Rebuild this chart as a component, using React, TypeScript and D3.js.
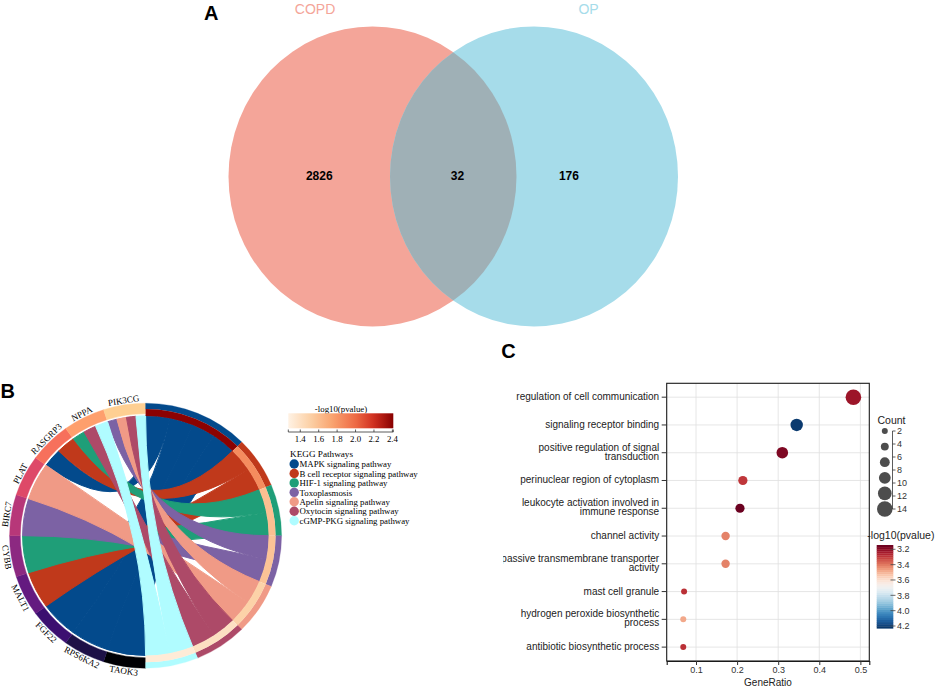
import React, { useEffect, useRef } from "react";
import * as d3 from "d3";

const SANS = "Liberation Sans, Arial, sans-serif";
const SERIF = "Liberation Serif, Times New Roman, serif";

// ---- Panel A: Venn ----
const VENN_SETS = ["COPD", "OP"];
const VENN_COUNTS = [2826, 32, 176]; // COPD only, shared, OP only

// ---- Panel B: KEGG chord ----
// genes run clockwise from 6 o'clock up to 12 o'clock
const GENES = ["TAOK3", "RPS6KA2", "FGF22", "MALT1", "CYBB", "BIRC7", "PLAT", "RASGRP3", "NPPA", "PIK3CG"];
const GENE_COLORS = ["#000004", "#1d1147", "#3b0f70", "#641a80", "#8c2981", "#b73779", "#de4968", "#f7705c", "#fe9f6d", "#fecf92"];
const PATHWAYS = [
  "MAPK signaling pathway",
  "B cell receptor signaling pathway",
  "HIF-1 signaling pathway",
  "Toxoplasmosis",
  "Apelin signaling pathway",
  "Oxytocin signaling pathway",
  "cGMP-PKG signaling pathway",
];
const PATHWAY_COLORS = ["#034a8c", "#c0391b", "#1f9e78", "#7c62a4", "#f09a86", "#ad4a68", "#b0fcff"];
const PATHWAY_LOGP = [2.4, 1.85, 1.6, 1.58, 1.5, 1.4, 1.32];
const LINKS: [string, string][] = [
  ["TAOK3", "MAPK signaling pathway"],
  ["RPS6KA2", "MAPK signaling pathway"],
  ["FGF22", "MAPK signaling pathway"],
  ["MALT1", "B cell receptor signaling pathway"],
  ["CYBB", "HIF-1 signaling pathway"],
  ["BIRC7", "Toxoplasmosis"],
  ["PLAT", "Apelin signaling pathway"],
  ["RASGRP3", "MAPK signaling pathway"],
  ["RASGRP3", "B cell receptor signaling pathway"],
  ["NPPA", "HIF-1 signaling pathway"],
  ["NPPA", "Oxytocin signaling pathway"],
  ["NPPA", "cGMP-PKG signaling pathway"],
  ["PIK3CG", "Toxoplasmosis"],
  ["PIK3CG", "Apelin signaling pathway"],
  ["PIK3CG", "Oxytocin signaling pathway"],
  ["PIK3CG", "cGMP-PKG signaling pathway"],
];
const B_LOGP_TICKS = [1.4, 1.6, 1.8, 2.0, 2.2, 2.4];

// ---- Panel C: GO dot plot ----
const GO_TERMS = [
  "regulation of cell communication",
  "signaling receptor binding",
  "positive regulation of signal\ntransduction",
  "perinuclear region of cytoplasm",
  "leukocyte activation involved in\nimmune response",
  "channel activity",
  "passive transmembrane transporter\nactivity",
  "mast cell granule",
  "hydrogen peroxide biosynthetic\nprocess",
  "antibiotic biosynthetic process",
];
const GO_RATIO = [0.483, 0.345, 0.31, 0.214, 0.207, 0.172, 0.172, 0.071, 0.069, 0.069];
const GO_COUNT = [14, 10, 9, 6, 6, 5, 5, 2, 2, 2];
const GO_LOGP = [3.225, 4.21, 3.177, 3.296, 3.15, 3.415, 3.415, 3.285, 3.48, 3.285];
const RATIO_TICKS = [0.1, 0.2, 0.3, 0.4, 0.5];
const COUNT_TICKS = [2, 4, 6, 8, 10, 12, 14];
const COUNT_KEYS = [2, 4.4, 6.8, 9.2, 11.6, 14];
const LOGP_TICKS = [3.2, 3.4, 3.6, 3.8, 4.0, 4.2];

type Svg = d3.Selection<SVGSVGElement, unknown, null, undefined>;

function drawVenn(svg: Svg) {
  const cy = 176.4;
  const rx = 144;
  const ry = 150;
  const cxs = [372.5, 534];
  const setColors = ["#f4a599", "#a6dcea"];

  svg
    .select("defs")
    .append("clipPath")
    .attr("id", "venn-left")
    .append("ellipse")
    .attr("cx", cxs[0])
    .attr("cy", cy)
    .attr("rx", rx)
    .attr("ry", ry);

  const g = svg.append("g");
  cxs.forEach((cx, i) => {
    g.append("ellipse")
      .attr("cx", cx)
      .attr("cy", cy)
      .attr("rx", rx)
      .attr("ry", ry)
      .attr("fill", setColors[i]);
  });
  // overlap
  g.append("ellipse")
    .attr("cx", cxs[1])
    .attr("cy", cy)
    .attr("rx", rx)
    .attr("ry", ry)
    .attr("clip-path", "url(#venn-left)")
    .attr("fill", "#9fb0b6");

  VENN_SETS.forEach((name, i) => {
    g.append("text")
      .attr("x", [315.1, 588.6][i])
      .attr("y", 13.6)
      .attr("text-anchor", "middle")
      .style("font-family", SANS)
      .style("font-size", "14px")
      .attr("fill", setColors[i])
      .text(name);
  });

  const countX = [319.3, 457.4, 568.9];
  VENN_COUNTS.forEach((c, i) => {
    g.append("text")
      .attr("x", countX[i])
      .attr("y", 180.3)
      .attr("text-anchor", "middle")
      .style("font-family", SANS)
      .style("font-size", "12px")
      .style("font-weight", "bold")
      .text(c);
  });
}

function drawChord(svg: Svg) {
  const cx = 145.6;
  const cy = 535.7;
  const sy = 0.974;
  const R = 136;
  const chordR = 123;

  const bColor = d3
    .scaleLinear<string>()
    .domain([1.27, 1.5, 1.75, 2.0, 2.2, 2.41])
    .range(["#fff2e4", "#fcd2a8", "#f9a36f", "#ee6a45", "#cf2f20", "#880000"]);

  const g = svg.append("g").attr("transform", `translate(${cx},${cy}) scale(1,${sy})`);

  const geneStep = Math.PI / GENES.length;
  const geneArcs = GENES.map((name, i) => ({
    name,
    start: Math.PI + i * geneStep,
    end: Math.PI + (i + 1) * geneStep,
  }));

  const linkStep = Math.PI / LINKS.length;
  let acc = 0;
  const pwArcs = PATHWAYS.map((name) => {
    const n = LINKS.filter((l) => l[1] === name).length;
    const a = { name, start: acc, end: acc + n * linkStep };
    acc += n * linkStep;
    return a;
  });

  const links = LINKS.map(([gene, pw]) => ({
    gene,
    pw,
    src: { startAngle: 0, endAngle: 0 },
    tgt: { startAngle: 0, endAngle: 0 },
  }));

  geneArcs.forEach((a) => {
    const mine = links
      .filter((l) => l.gene === a.name)
      .sort((p, q) => PATHWAYS.indexOf(p.pw) - PATHWAYS.indexOf(q.pw));
    const w = (a.end - a.start) / mine.length;
    mine.forEach((l, k) => {
      l.src = { startAngle: a.start + k * w, endAngle: a.start + (k + 1) * w };
    });
  });
  pwArcs.forEach((a) => {
    const mine = links
      .filter((l) => l.pw === a.name)
      .sort((p, q) => q.src.startAngle - p.src.startAngle);
    mine.forEach((l, k) => {
      l.tgt = { startAngle: a.start + k * linkStep, endAngle: a.start + (k + 1) * linkStep };
    });
  });

  const ribbon = d3.ribbon<any, any>().radius(chordR);
  PATHWAYS.forEach((p, j) => {
    links
      .filter((l) => l.pw === p)
      .forEach((l) => {
        g.append("path")
          .attr("d", ribbon({ source: l.src, target: l.tgt }) as unknown as string)
          .attr("fill", PATHWAY_COLORS[j])
          .attr("stroke", PATHWAY_COLORS[j])
          .attr("stroke-width", 1)
          .attr("stroke-linejoin", "round");
      });
  });

  const arc = d3.arc<any>();
  geneArcs.forEach((a, i) => {
    g.append("path")
      .attr("d", arc({ innerRadius: 125.3, outerRadius: R, startAngle: a.start, endAngle: a.end }) as string)
      .attr("fill", GENE_COLORS[i])
      .attr("stroke", GENE_COLORS[i])
      .attr("stroke-width", 0.4);
  });
  pwArcs.forEach((a, j) => {
    g.append("path")
      .attr("d", arc({ innerRadius: 130, outerRadius: R, startAngle: a.start, endAngle: a.end }) as string)
      .attr("fill", PATHWAY_COLORS[j])
      .attr("stroke", PATHWAY_COLORS[j])
      .attr("stroke-width", 0.3);
    g.append("path")
      .attr("d", arc({ innerRadius: chordR, outerRadius: 130, startAngle: a.start, endAngle: a.end }) as string)
      .attr("fill", bColor(PATHWAY_LOGP[j]));
  });

  // gene labels, tangent to the circle
  geneArcs.forEach((a) => {
    const mid = (a.start + a.end) / 2;
    const top = mid > 1.5 * Math.PI;
    const r = top ? 137.5 : 143.5;
    const px = cx + r * Math.sin(mid);
    const py = cy - r * sy * Math.cos(mid);
    const deg = (mid * 180) / Math.PI;
    const rot = top ? deg - 360 : deg - 180;
    svg
      .append("text")
      .attr("transform", `translate(${px},${py}) rotate(${rot})`)
      .attr("text-anchor", "middle")
      .style("font-family", SERIF)
      .style("font-size", "9px")
      .text(a.name);
  });

  // colour bar legend
  const lx = d3.scaleLinear().domain([1.27, 2.41]).range([288.3, 393.3]);
  const grad = svg
    .select("defs")
    .append("linearGradient")
    .attr("id", "b-grad")
    .attr("x1", "0%")
    .attr("x2", "100%");
  d3.range(0, 1.0001, 0.05).forEach((t) => {
    grad
      .append("stop")
      .attr("offset", `${t * 100}%`)
      .attr("stop-color", bColor(1.27 + t * (2.41 - 1.27)));
  });
  const lg = svg.append("g");
  lg.append("text")
    .attr("x", 341)
    .attr("y", 411.5)
    .attr("text-anchor", "middle")
    .style("font-family", SERIF)
    .style("font-size", "8.8px")
    .text("-log10(pvalue)");
  lg.append("rect")
    .attr("x", lx(1.27))
    .attr("y", 413.3)
    .attr("width", lx(2.41) - lx(1.27))
    .attr("height", 15)
    .attr("fill", "url(#b-grad)");
  lg.append("line")
    .attr("x1", lx(1.27))
    .attr("x2", lx(2.41))
    .attr("y1", 432)
    .attr("y2", 432)
    .attr("stroke", "#333")
    .attr("stroke-width", 0.8);
  [1.27, ...B_LOGP_TICKS, 2.41].forEach((v) => {
    lg.append("line")
      .attr("x1", lx(v))
      .attr("x2", lx(v))
      .attr("y1", 429.5)
      .attr("y2", 432)
      .attr("stroke", "#333")
      .attr("stroke-width", 0.8);
  });
  B_LOGP_TICKS.forEach((v) => {
    lg.append("text")
      .attr("x", lx(v))
      .attr("y", 441.7)
      .attr("text-anchor", "middle")
      .style("font-family", SERIF)
      .style("font-size", "8.8px")
      .text(v.toFixed(1));
  });

  lg.append("text")
    .attr("x", 290)
    .attr("y", 457.3)
    .style("font-family", SERIF)
    .style("font-size", "9.2px")
    .text("KEGG Pathways");
  const ly = d3.scalePoint<string>().domain(PATHWAYS).range([464, 520.7]);
  PATHWAYS.forEach((p, j) => {
    lg.append("circle")
      .attr("cx", 294.2)
      .attr("cy", ly(p)!)
      .attr("r", 4.7)
      .attr("fill", PATHWAY_COLORS[j]);
    lg.append("text")
      .attr("x", 299.5)
      .attr("y", ly(p)! + 3.2)
      .style("font-family", SERIF)
      .style("font-size", "8.8px")
      .text(p);
  });
}

function drawDots(svg: Svg) {
  const left = 666.7;
  const right = 869.3;
  const top = 383.3;
  const bottom = 661;

  const x = d3.scaleLinear().domain([0.0287, 0.5217]).range([left, right]);
  const y = d3.scalePoint<string>().domain(GO_TERMS).range([top, bottom]).padding(0.5);
  const r = d3.scaleLinear().domain([2, 14]).range([3, 7.8]);
  const colorT = d3.scaleLinear().domain([3.144, 4.23]).range([0, 1]).clamp(true);
  const color = (v: number) => d3.interpolateRdBu(colorT(v));

  svg
    .select("defs")
    .append("clipPath")
    .attr("id", "c-clip")
    .append("rect")
    .attr("x", 503)
    .attr("y", 330)
    .attr("width", 440)
    .attr("height", 360);

  const g = svg.append("g").attr("clip-path", "url(#c-clip)");

  // grid
  RATIO_TICKS.forEach((t) => {
    g.append("line")
      .attr("x1", x(t))
      .attr("x2", x(t))
      .attr("y1", top)
      .attr("y2", bottom)
      .attr("stroke", "#e0e0e0")
      .attr("stroke-width", 0.8);
  });
  GO_TERMS.forEach((t) => {
    g.append("line")
      .attr("x1", left)
      .attr("x2", right)
      .attr("y1", y(t)!)
      .attr("y2", y(t)!)
      .attr("stroke", "#e0e0e0")
      .attr("stroke-width", 0.8);
  });

  // points
  GO_TERMS.forEach((t, i) => {
    g.append("circle")
      .attr("cx", x(GO_RATIO[i]))
      .attr("cy", y(t)!)
      .attr("r", r(GO_COUNT[i]))
      .attr("fill", color(GO_LOGP[i]));
  });

  g.append("rect")
    .attr("x", left)
    .attr("y", top)
    .attr("width", right - left)
    .attr("height", bottom - top)
    .attr("fill", "none")
    .attr("stroke", "#1a1a1a")
    .attr("stroke-width", 1.1);

  // y axis
  GO_TERMS.forEach((t) => {
    const yy = y(t)!;
    g.append("line")
      .attr("x1", left - 5)
      .attr("x2", left)
      .attr("y1", yy)
      .attr("y2", yy)
      .attr("stroke", "#333")
      .attr("stroke-width", 1);
    const lines = t.split("\n");
    lines.forEach((ln, k) => {
      const base = lines.length === 1 ? yy + 3 : yy - 2.2 + k * 9.3;
      g.append("text")
        .attr("x", left - 7.5)
        .attr("y", base)
        .attr("text-anchor", "end")
        .style("font-family", SANS)
        .style("font-size", "10px")
        .attr("fill", "#222")
        .text(ln);
    });
  });

  // x axis
  const xa = g
    .append("g")
    .attr("transform", `translate(0,${bottom})`)
    .call(d3.axisBottom(x).tickValues(RATIO_TICKS).tickSize(4).tickSizeOuter(4).tickPadding(2).tickFormat(d3.format(".1f")));
  xa.select(".domain").attr("stroke", "#1a1a1a").attr("stroke-width", 1.1);
  xa.selectAll(".tick line").attr("stroke", "#333");
  xa.selectAll("text").style("font-family", SANS).style("font-size", "9px").attr("fill", "#333");

  g.append("text")
    .attr("x", (left + right) / 2)
    .attr("y", 686)
    .attr("text-anchor", "middle")
    .style("font-family", SANS)
    .style("font-size", "10px")
    .attr("fill", "#222")
    .text("GeneRatio");

  // size legend
  const sy = d3.scaleLinear().domain([2, 14]).range([431, 509]);
  g.append("text")
    .attr("x", 877.5)
    .attr("y", 424)
    .style("font-family", SANS)
    .style("font-size", "10.5px")
    .attr("fill", "#222")
    .text("Count");
  COUNT_KEYS.forEach((c) => {
    g.append("circle").attr("cx", 884.8).attr("cy", sy(c)).attr("r", r(c)).attr("fill", "#4d4d4d");
  });
  g.append("line")
    .attr("x1", 892.5)
    .attr("x2", 892.5)
    .attr("y1", sy(2))
    .attr("y2", sy(14))
    .attr("stroke", "#333")
    .attr("stroke-width", 0.8);
  COUNT_TICKS.forEach((c) => {
    g.append("line")
      .attr("x1", 892.5)
      .attr("x2", 895.5)
      .attr("y1", sy(c))
      .attr("y2", sy(c))
      .attr("stroke", "#333")
      .attr("stroke-width", 0.8);
    g.append("text")
      .attr("x", 897)
      .attr("y", sy(c) + 3.2)
      .style("font-family", SANS)
      .style("font-size", "9px")
      .attr("fill", "#333")
      .text(c);
  });

  // colour bar legend
  const cy = d3.scaleLinear().domain([3.144, 4.23]).range([545, 628.3]);
  g.append("text")
    .attr("x", 867.3)
    .attr("y", 539)
    .style("font-family", SANS)
    .style("font-size", "10.5px")
    .attr("fill", "#222")
    .text("-log10(pvalue)");
  const nb = 40;
  d3.range(nb).forEach((k) => {
    const v0 = 3.144 + ((4.23 - 3.144) * k) / nb;
    const v1 = 3.144 + ((4.23 - 3.144) * (k + 1)) / nb;
    g.append("rect")
      .attr("x", 876.7)
      .attr("y", cy(v0))
      .attr("width", 16.6)
      .attr("height", cy(v1) - cy(v0) + 0.3)
      .attr("fill", color((v0 + v1) / 2));
  });
  LOGP_TICKS.forEach((v) => {
    g.append("line")
      .attr("x1", 890.5)
      .attr("x2", 895.5)
      .attr("y1", cy(v))
      .attr("y2", cy(v))
      .attr("stroke", "#444")
      .attr("stroke-width", 0.8);
    g.append("text")
      .attr("x", 897)
      .attr("y", cy(v) + 3.2)
      .style("font-family", SANS)
      .style("font-size", "9px")
      .attr("fill", "#333")
      .text(v.toFixed(1));
  });
}

export default function App() {
  const svgRef = useRef<SVGSVGElement>(null);

  useEffect(() => {
    if (!svgRef.current) return;
    const svg = d3.select(svgRef.current);
    svg.selectAll("*").remove();
    svg.append("defs");

    drawVenn(svg);
    drawChord(svg);
    drawDots(svg);

    // panel letters
    [
      { t: "A", x: 204, y: 19.7 },
      { t: "B", x: 0.5, y: 398.3 },
      { t: "C", x: 501.2, y: 358.3 },
    ].forEach((p) => {
      svg
        .append("text")
        .attr("x", p.x)
        .attr("y", p.y)
        .style("font-family", SANS)
        .style("font-size", "20px")
        .style("font-weight", "bold")
        .text(p.t);
    });
  }, []);

  return (
    <svg
      ref={svgRef}
      width={941}
      height={688}
      style={{ position: "absolute", left: 0, top: 0, background: "#fff" }}
    />
  );
}
